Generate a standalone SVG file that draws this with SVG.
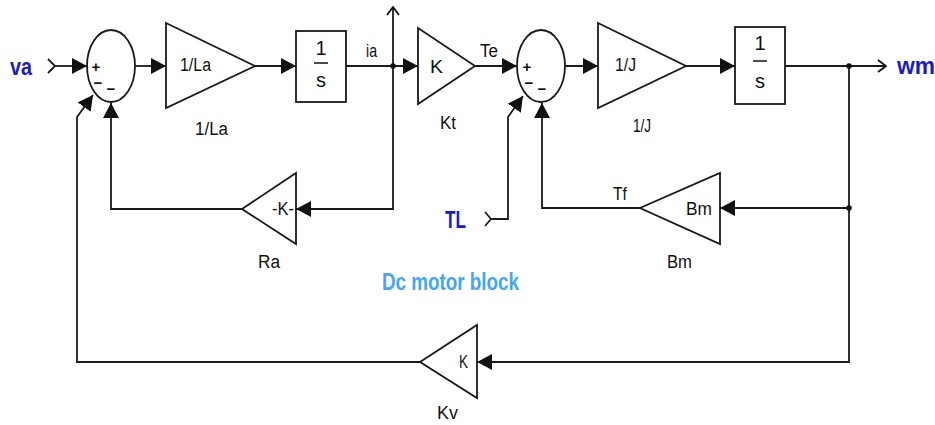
<svg xmlns="http://www.w3.org/2000/svg" width="935" height="425" viewBox="0 0 935 425">
<style>
.w{fill:none;stroke:#1a1a1a;stroke-width:1.8}
.b{fill:#fff;stroke:#1a1a1a;stroke-width:1.8}
.t{font-family:"Liberation Sans",Arial,sans-serif;fill:#111;font-size:18px}
.n{font-family:"Liberation Sans",Arial,sans-serif;fill:#111;font-size:20px;text-anchor:middle}
.s{font-family:"Liberation Sans",Arial,sans-serif;fill:#111;font-size:15px;font-weight:bold;text-anchor:middle}
.blue{font-family:"Liberation Sans",Arial,sans-serif;fill:#1a1ac8;font-size:23px;font-weight:bold}
.lb{font-family:"Liberation Sans",Arial,sans-serif;fill:#45a6f5;font-size:23px;font-weight:bold}
</style>
<defs>
<marker id="a" viewBox="0 0 15 16" refX="15" refY="8" markerWidth="15" markerHeight="16" markerUnits="userSpaceOnUse" orient="auto">
<path d="M0,0 L15,8 L0,16 z" fill="#111"/>
</marker>
<marker id="o" viewBox="0 0 10 14" refX="9" refY="7" markerWidth="10" markerHeight="14" markerUnits="userSpaceOnUse" orient="auto">
<path d="M1,1 L9,7 L1,13" fill="none" stroke="#111" stroke-width="1.8"/>
</marker>
</defs>
<rect width="935" height="425" fill="#fff"/>

<g id="connectors">
<path class="w" d="M48,59 L55,66 L48,73"/>
<path class="w" d="M55,66 L87,66" marker-end="url(#a)"/>
<path class="w" d="M135,66 L166,66" marker-end="url(#a)"/>
<path class="w" d="M255,66 L296,66" marker-end="url(#a)"/>
<path class="w" d="M346,66 L418,66" marker-end="url(#a)"/>
<path class="w" d="M393,66 L393,7" marker-end="url(#o)"/>
<path class="w" d="M393,66 L393,209 L296,209" marker-end="url(#a)"/>
<path class="w" d="M242,209 L111,209 L111,103" marker-end="url(#a)"/>
<path class="w" d="M475,66 L517,66" marker-end="url(#a)"/>
<path class="w" d="M565,66 L598,66" marker-end="url(#a)"/>
<path class="w" d="M686,66 L735,66" marker-end="url(#a)"/>
<path class="w" d="M785,66 L886,66" marker-end="url(#o)"/>
<path class="w" d="M849,66 L849,362 L477,362" marker-end="url(#a)"/>
<path class="w" d="M849,208 L720,208" marker-end="url(#a)"/>
<path class="w" d="M640,208 L542,208 L542,103" marker-end="url(#a)"/>
<path class="w" d="M485,212 L491,219 L485,226"/>
<path class="w" d="M491,219 L508,219 L508,117 L523,96" marker-end="url(#a)"/>
<path class="w" d="M420,362 L77,362 L77,117 L93,95" marker-end="url(#a)"/>
<circle cx="393" cy="66" r="2.8" fill="#111"/>
<circle cx="849" cy="66" r="2.8" fill="#111"/>
<circle cx="849" cy="208" r="2.8" fill="#111"/>
</g>

<g id="va"><text class="blue" x="10" y="75" textLength="22" lengthAdjust="spacingAndGlyphs">va</text></g>
<g id="wm"><text class="blue" x="897" y="74" textLength="38" lengthAdjust="spacingAndGlyphs" font-weight="normal">wm</text></g>
<g id="TL"><text class="blue" x="445" y="228" textLength="21" lengthAdjust="spacingAndGlyphs">TL</text></g>
<g id="title"><text class="lb" x="382" y="290" textLength="137" lengthAdjust="spacingAndGlyphs">Dc motor block</text></g>

<g id="sum1">
<ellipse class="b" cx="111" cy="66" rx="24" ry="36"/>
<text class="s" x="96" y="72">+</text>
<text class="s" x="98" y="88">−</text>
<text class="s" x="111" y="94">−</text>
</g>

<g id="gain_1La">
<polygon class="b" points="166,23 255,66 166,108"/>
<text class="t" x="180" y="71" textLength="31" lengthAdjust="spacingAndGlyphs">1/La</text>
<text class="t" x="195" y="135" textLength="33" lengthAdjust="spacingAndGlyphs">1/La</text>
</g>

<g id="int1">
<rect class="b" x="296" y="31" width="50" height="71"/>
<text class="n" x="321" y="55">1</text>
<line x1="314" y1="63" x2="328" y2="63" stroke="#111" stroke-width="1.5"/>
<text class="n" x="321" y="87">s</text>
</g>
<g id="ia"><text class="t" x="366" y="57" textLength="11" lengthAdjust="spacingAndGlyphs">ia</text></g>

<g id="Kt">
<polygon class="b" points="418,28 475,66 418,104"/>
<text class="t" x="430" y="73" textLength="13" lengthAdjust="spacingAndGlyphs">K</text>
<text class="t" x="440" y="129" textLength="16" lengthAdjust="spacingAndGlyphs">Kt</text>
</g>
<g id="Te"><text class="t" x="480" y="57" textLength="18" lengthAdjust="spacingAndGlyphs">Te</text></g>

<g id="sum2">
<ellipse class="b" cx="541" cy="66" rx="24" ry="36"/>
<text class="s" x="527" y="72">+</text>
<text class="s" x="529" y="88">−</text>
<text class="s" x="542" y="94">−</text>
</g>

<g id="gain_1J">
<polygon class="b" points="598,23 686,66 598,108"/>
<text class="t" x="615" y="71" textLength="21" lengthAdjust="spacingAndGlyphs">1/J</text>
<text class="t" x="633" y="132" textLength="18" lengthAdjust="spacingAndGlyphs">1/J</text>
</g>

<g id="int2">
<rect class="b" x="735" y="27" width="50" height="77"/>
<text class="n" x="760" y="50">1</text>
<line x1="753" y1="61" x2="767" y2="61" stroke="#111" stroke-width="1.5"/>
<text class="n" x="760" y="88">s</text>
</g>

<g id="Ra">
<polygon class="b" points="296,173 296,244 242,209"/>
<text class="t" x="272" y="215" textLength="22" lengthAdjust="spacingAndGlyphs">-K-</text>
<text class="t" x="258" y="268" textLength="22" lengthAdjust="spacingAndGlyphs">Ra</text>
</g>

<g id="Bm">
<polygon class="b" points="720,173 720,244 640,208"/>
<text class="t" x="686" y="215" textLength="26" lengthAdjust="spacingAndGlyphs">Bm</text>
<text class="t" x="667" y="268" textLength="25" lengthAdjust="spacingAndGlyphs">Bm</text>
</g>
<g id="Tf"><text class="t" x="613" y="200" textLength="14" lengthAdjust="spacingAndGlyphs">Tf</text></g>

<g id="Kv">
<polygon class="b" points="477,325 477,398 420,362"/>
<text class="t" x="459" y="368" textLength="9" lengthAdjust="spacingAndGlyphs">K</text>
<text class="t" x="437" y="419" textLength="21" lengthAdjust="spacingAndGlyphs">Kv</text>
</g>
</svg>
